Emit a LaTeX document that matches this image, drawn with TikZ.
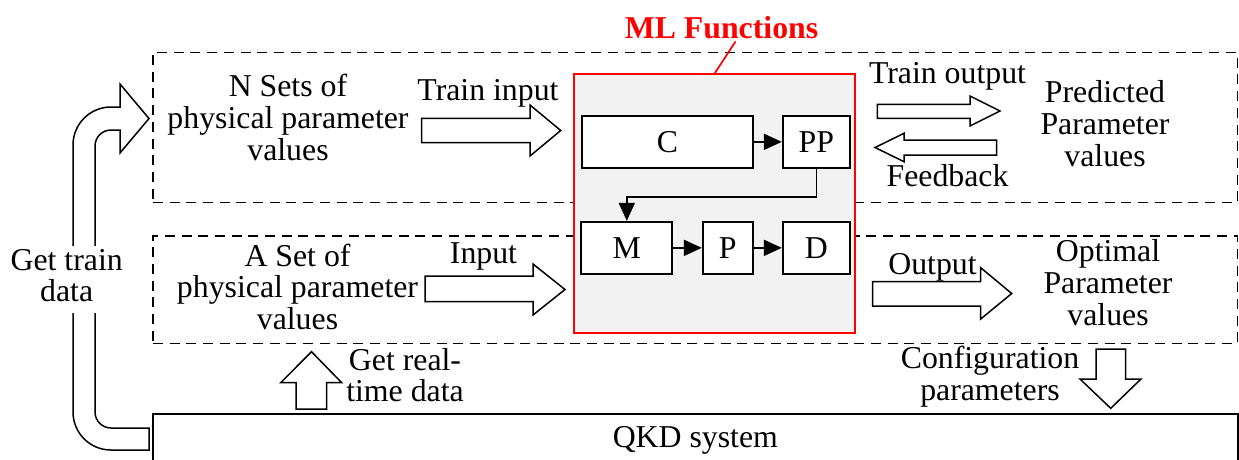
\documentclass[tikz,border=0pt]{standalone}
\usepackage{fontspec}
\setmainfont{Liberation Serif}
\usetikzlibrary{arrows.meta}
\definecolor{mlgray}{HTML}{F2F2F2}
\newcommand{\mlines}[1]{\begin{tabular}[t]{@{}c@{}}#1\end{tabular}}
\tikzset{
  lw/.style={line width=1.7pt},
  dbox/.style={draw, lw, dash pattern=on 10pt off 6.7pt, anchor=north west, inner sep=0pt},
  fbox/.style={draw, lw, fill=white, inner sep=0pt, minimum height=51.7pt},
  conn/.style={lw, -{Triangle[length=18pt,width=16pt]}},
  barrow/.style={draw, line width=1.5pt, fill=white, line join=miter},
  lbl/.style={inner sep=0pt, anchor=base},
}
\begin{document}
\begin{tikzpicture}[x=1pt,y=-1pt, every node/.style={font=\fontsize{31.8}{31.8}\selectfont}]
\useasboundingbox (0,0) rectangle (1239,459);
% dashed groups
\node[dbox, minimum width=1084.5pt, minimum height=149.8pt] (upper) at (152,51.7) {};
\node[dbox, minimum width=1084.5pt, minimum height=107.5pt] (lower) at (152,235) {};
% ML box
\node[draw=red, fill=mlgray, lw, minimum width=281.3pt, minimum height=259pt, inner sep=0pt] (ml) at (714.65,203.8) {};
\node[lbl, text=red, font=\bfseries\fontsize{31.8}{31.8}\selectfont] (mltitle) at (721.5,38) {ML Functions};
\coordinate (mlpin) at (735.5,41.5);
\draw[red, lw] (ml.north) -- (mlpin);
% inner boxes
\node[fbox, minimum width=170.7pt] (C) at (667.35,141.85) {C};
\node[fbox, minimum width=67.3pt] (PP) at (816.35,141.85) {PP};
\node[fbox, minimum width=91pt, minimum height=52.3pt] (M) at (626.8,247.85) {M};
\node[fbox, minimum width=50pt, minimum height=52.3pt] (P) at (727.7,247.85) {P};
\node[fbox, minimum width=67.3pt, minimum height=52.3pt] (D) at (816.35,247.85) {D};
\draw[conn] (C) -- (PP);
\draw[conn] (PP.south) -- ++(0,28.3) -| (M.north);
\draw[conn] (M) -- (P);
\draw[conn] (P) -- (D);
% QKD system
\begin{scope}
\clip (0,0) rectangle (1239,459);
\node[draw, lw, anchor=north west, minimum width=1085pt, minimum height=52.4pt, text height=22pt, text depth=7pt, inner sep=0pt] (qkd) at (152,413) {QKD system};
\end{scope}
% block arrows
\draw[barrow] (421.7,118.3) -- (530,118.3) -- (530,105) -- (560.7,130.5) -- (530,156) -- (530,142.7) -- (421.7,142.7) -- cycle;
\draw[barrow] (425,276) -- (533,276) -- (533,264) -- (565,289.5) -- (533,315) -- (533,301.7) -- (425,301.7) -- cycle;
\draw[barrow] (877.3,104.3) -- (970,104.3) -- (970,96) -- (1000,111) -- (970,126) -- (970,118.3) -- (877.3,118.3) -- cycle;
\draw[barrow] (996.7,140) -- (904,140) -- (904,133.3) -- (875,147.5) -- (904,161.7) -- (904,155) -- (996.7,155) -- cycle;
\draw[barrow] (872.7,281.7) -- (980.7,281.7) -- (980.7,267.7) -- (1011.7,293.5) -- (980.7,319) -- (980.7,306) -- (872.7,306) -- cycle;
\draw[barrow] (296,409) -- (296,382.7) -- (280.7,382.7) -- (311.5,351.7) -- (341.7,382.7) -- (326.7,382.7) -- (326.7,409) -- cycle;
\draw[barrow] (1096,349) -- (1096,379) -- (1080,379) -- (1110.7,408.3) -- (1141,379) -- (1125.7,379) -- (1125.7,349) -- cycle;
% U-shaped arrow
\draw[barrow] (149,428) -- (149,450) -- (111,450) .. controls (90,450) and (73,433) .. (73,412) -- (73,145) .. controls (73,124) and (90,107) .. (111,107) -- (120,107) -- (120,84) -- (149,118.5) -- (120,153) -- (120,130) -- (111,130) .. controls (102.2,130) and (95,137.2) .. (95,146) -- (95,412) .. controls (95,420.8) and (102.2,428) .. (111,428) -- cycle;
% labels
\node[lbl] (nsets) at (288,96.7) {\mlines{N Sets of\\physical parameter\\values}};
\node[lbl] (trin) at (488,100) {Train input};
\node[lbl] (trout) at (947.5,83.3) {Train output};
\node[lbl] (fb) at (947.5,186.7) {Feedback};
\node[lbl] (pred) at (1105,102.7) {\mlines{Predicted\\Parameter\\values}};
\node[lbl] (aset) at (297.5,266) {\mlines{A Set of\\physical parameter\\values}};
\node[lbl] (inp) at (483.5,263) {Input};
\node[lbl] (outp) at (932.5,274.3) {Output};
\node[lbl] (opt) at (1108,261.7) {\mlines{Optimal\\Parameter\\values}};
\node[lbl, fill=white, inner sep=2pt] (gtd) at (66.7,270) {\mlines{Get train\\data}};
\node[lbl] (grt) at (405,370) {\mlines{Get real-\\time data}};
\node[lbl] (cfg) at (990,368.3) {\mlines{Configuration\\parameters}};
\end{tikzpicture}
\end{document}
